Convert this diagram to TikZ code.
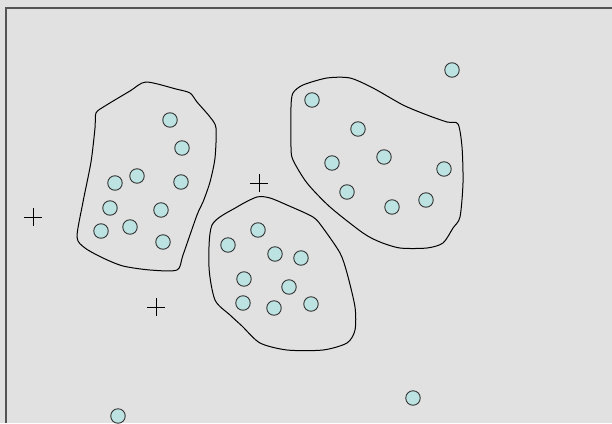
\documentclass[tikz,border=0pt]{standalone}
\definecolor{bggray}{RGB}{225,225,225}
\definecolor{ptcyan}{RGB}{189,226,226}
\definecolor{framegray}{RGB}{85,85,85}
\tikzset{
    pt/.style = {circle, draw=black!80, fill=ptcyan, line width=0.9pt, minimum size=14.5pt, inner sep=0pt},
    blob/.style = {black, line width=1pt, smooth cycle, tension=0.45},
}
\begin{document}
\begin{tikzpicture}[x=1pt, y=-1pt]
    % Background and frame
    \useasboundingbox (0,0) rectangle (612,423);
    \fill[bggray] (0,0) rectangle (612,423);
    \draw[framegray, line width=1.2pt] (6,423) -- (6,8) -- (612,8);

    % Cluster outlines
    \draw[blob] plot coordinates {(146,82) (130,91) (105,106) (96,113) (95,128) (91,162) (83,202)
        (77,237) (85,248) (103,258) (123,266) (150,270) (177,270) (183,255) (197,215) (203,202)
        (210,182) (215,158) (216,128) (210,117) (197,102) (190,93) (176,89)};
    \draw[blob] plot coordinates {(257,197) (237,207) (212,225) (209,267) (215,300) (230,315)
        (242,326) (260,343) (287,350) (323,350) (347,343) (355,330) (355,307) (347,273)
        (340,253) (323,228) (313,217) (287,205) (270,198)};
    \draw[blob] plot coordinates {(293,93) (303,85) (327,78) (350,78) (373,88) (403,105)
        (427,115) (447,122) (458,124) (462,147) (463,183) (460,217) (453,228) (443,243)
        (427,248) (400,248) (380,242) (363,233) (330,207) (307,183) (293,160) (291,147)
        (291,107)};

    % Data points
    \foreach \x/\y [count=\i] in {170/120, 182/148, 115/183, 137/176, 181/182, 110/208, 161/210,
        101/231, 130/227, 163/242}
        \node[pt] (a\i) at (\x,\y) {};
    \foreach \x/\y [count=\i] in {228/245, 258/230, 275/254, 301/258, 244/279, 289/287, 243/303,
        274/308, 311/304}
        \node[pt] (b\i) at (\x,\y) {};
    \foreach \x/\y [count=\i] in {312/100, 358/129, 332/163, 384/157, 444/169, 347/192, 392/207,
        426/200}
        \node[pt] (c\i) at (\x,\y) {};

    % Outliers
    \node[pt] (o1) at (452,70) {};
    \node[pt] (o2) at (413,398) {};
    \node[pt] (o3) at (118,416) {};

    % Centroids
    \foreach \x/\y in {33/217, 259/183, 156/307}
        \draw[black, line width=0.9pt] (\x-9,\y) -- (\x+9,\y) (\x,\y-9) -- (\x,\y+9);
\end{tikzpicture}
\end{document}
